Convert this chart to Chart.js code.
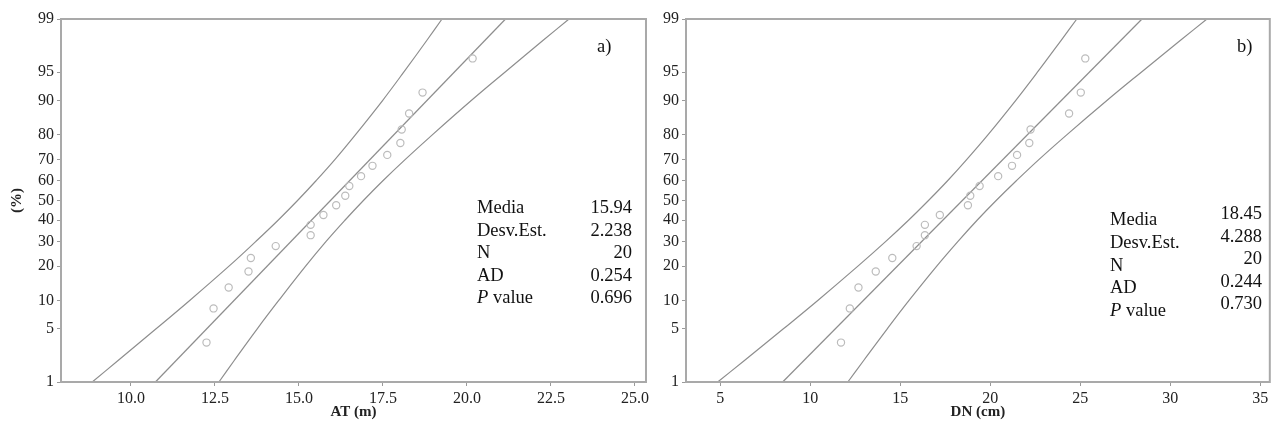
<!DOCTYPE html>
<html>
<head>
<meta charset="utf-8">
<script src="https://cdn.jsdelivr.net/npm/chart.js@4.4.1/dist/chart.umd.min.js"></script>
<style>
  body { margin: 0; background: #fff; }
  #wrap { position: relative; width: 1275px; height: 434px; overflow: hidden; }
  canvas { position: absolute; top: 0; }
  .txt { position: absolute; font-family: 'Liberation Serif', 'Times New Roman', serif; font-size: 18.5px; line-height: 20px; color: #111; white-space: nowrap; }
  .val { text-align: right; }
</style>
</head>
<body>
<div id="wrap">
  <canvas id="at-chart" width="652" height="434" style="left:0px"></canvas>
  <canvas id="dn-chart" width="623" height="434" style="left:652px"></canvas>
</div>
<script>
// probability levels (%) on the y axis
const Y_TICKS = [1, 5, 10, 20, 30, 40, 50, 60, 70, 80, 90, 95, 99];
// plotting positions of the 20 ordered trees (%)
const RANKS = [3.43, 8.33, 13.24, 18.14, 23.04, 27.94, 32.84, 37.75, 42.65, 47.55,
               52.45, 57.35, 62.25, 67.16, 72.06, 76.96, 81.86, 86.76, 91.67, 96.57];

// a) total height AT (m)
const AT_TICKS = [10, 12.5, 15, 17.5, 20, 22.5, 25];
const AT_VALUES = [12.25, 12.46, 12.91, 13.50, 13.57, 14.31, 15.35, 15.35, 15.73, 16.11,
                   16.38, 16.50, 16.85, 17.19, 17.63, 18.02, 18.06, 18.28, 18.68, 20.17];
const AT_FIT = [10.73, 21.15];          // at 1% and 99%
const BAND_LEVELS = [1, 2, 5, 10, 20, 30, 40, 50, 60, 70, 80, 90, 95, 98, 99];
const AT_LOWER = [8.85, 9.61, 10.75, 11.75, 12.92, 13.72, 14.38, 14.96, 15.51, 16.07, 16.68, 17.49, 18.12, 18.81, 19.26];
const AT_UPPER = [12.62, 13.07, 13.76, 14.40, 15.20, 15.81, 16.37, 16.92, 17.50, 18.16, 18.97, 20.13, 21.13, 22.27, 23.04];
const AT_STATS = ['15.94', '2.238', '20', '0.254', '0.696'];

// b) diameter DN (cm)
const DN_TICKS = [5, 10, 15, 20, 25, 30, 35];
const DN_VALUES = [11.71, 12.20, 12.68, 13.64, 14.56, 15.91, 16.37, 16.37, 17.20, 18.76,
                   18.89, 19.41, 20.44, 21.21, 21.49, 22.17, 22.24, 24.38, 25.03, 25.28];
const DN_FIT = [8.47, 28.43];
const DN_LOWER = [4.86, 6.33, 8.51, 10.42, 12.65, 14.20, 15.46, 16.57, 17.63, 18.69, 19.87, 21.41, 22.62, 23.94, 24.81];
const DN_UPPER = [12.09, 12.96, 14.28, 15.49, 17.03, 18.21, 19.27, 20.33, 21.45, 22.70, 24.25, 26.48, 28.39, 30.57, 32.04];
const DN_STATS = ['18.45', '4.288', '20', '0.244', '0.730'];

const STAT_LABELS = ['Media', 'Desv.Est.', 'N', 'AD', 'P value'];

// inverse normal cdf (Acklam)
function qnorm(p) {
  const a = [-3.969683028665376e+01, 2.209460984245205e+02, -2.759285104469687e+02, 1.383577518672690e+02, -3.066479806614716e+01, 2.506628277459239e+00];
  const b = [-5.447609879822406e+01, 1.615858368580409e+02, -1.556989798598866e+02, 6.680131188771972e+01, -1.328068155288572e+01];
  const c = [-7.784894002430293e-03, -3.223964580411365e-01, -2.400758277161838e+00, -2.549732539343734e+00, 4.374664141464968e+00, 2.938163982698783e+00];
  const d = [7.784695709041462e-03, 3.224671290700398e-01, 2.445134137142996e+00, 3.754408661907416e+00];
  const pl = 0.02425;
  let q, r;
  if (p < pl) {
    q = Math.sqrt(-2 * Math.log(p));
    return (((((c[0]*q+c[1])*q+c[2])*q+c[3])*q+c[4])*q+c[5]) / ((((d[0]*q+d[1])*q+d[2])*q+d[3])*q+1);
  }
  if (p > 1 - pl) {
    q = Math.sqrt(-2 * Math.log(1 - p));
    return -(((((c[0]*q+c[1])*q+c[2])*q+c[3])*q+c[4])*q+c[5]) / ((((d[0]*q+d[1])*q+d[2])*q+d[3])*q+1);
  }
  q = p - 0.5; r = q * q;
  return (((((a[0]*r+a[1])*r+a[2])*r+a[3])*r+a[4])*r+a[5])*q / (((((b[0]*r+b[1])*r+b[2])*r+b[3])*r+b[4])*r+1);
}

// normal probability scale
class ProbabilityScale extends Chart.LinearScale {
  determineDataLimits() { this.min = 1; this.max = 99; }
  buildTicks() { return Y_TICKS.map(v => ({ value: v })); }
  getPixelForValue(v) {
    const z0 = qnorm(0.01), z1 = qnorm(0.99);
    return this.getPixelForDecimal((qnorm(v / 100) - z0) / (z1 - z0));
  }
}
ProbabilityScale.id = 'probability';
ProbabilityScale.defaults = Chart.LinearScale.defaults;
Chart.register(ProbabilityScale);

Chart.defaults.font.family = "'Liberation Serif', 'Times New Roman', serif";
Chart.defaults.font.size = 16;
Chart.defaults.color = '#222';

const frame = {
  id: 'frame',
  afterDatasetsDraw(chart) {
    const a = chart.chartArea, ctx = chart.ctx;
    ctx.save();
    ctx.strokeStyle = '#a9a9a9';
    ctx.lineWidth = 2;
    ctx.strokeRect(a.left, a.top, a.right - a.left, a.bottom - a.top);
    ctx.restore();
  }
};

const LINE = '#8e8e8e';

function curve(xs) {
  return {
    type: 'line',
    data: xs.map((x, i) => ({ x: x, y: BAND_LEVELS[i] })),
    borderColor: LINE, borderWidth: 1.2, pointRadius: 0, tension: 0.4, fill: false
  };
}

function probPlot(id, values, fit, lower, upper, xmin, xmax, xticks, fmt, yWidth, padRight, xTitle, yTitle) {
  new Chart(document.getElementById(id), {
    type: 'scatter',
    data: {
      datasets: [
        {
          data: values.map((x, i) => ({ x: x, y: RANKS[i] })),
          pointRadius: 3.6, pointBorderWidth: 1.2,
          borderColor: '#bcbcbc', backgroundColor: 'rgba(0,0,0,0)'
        },
        {
          type: 'line',
          data: [{ x: fit[0], y: 1 }, { x: fit[1], y: 99 }],
          borderColor: LINE, borderWidth: 1.2, pointRadius: 0
        },
        curve(lower),
        curve(upper)
      ]
    },
    options: {
      responsive: false,
      animation: false,
      layout: { padding: { top: 19, right: padRight, left: 0, bottom: 0 } },
      plugins: { legend: { display: false }, tooltip: { enabled: false } },
      scales: {
        x: {
          type: 'linear', min: xmin, max: xmax,
          afterBuildTicks: s => { s.ticks = xticks.map(v => ({ value: v })); },
          afterFit: s => { s.height = 52; },
          grid: { drawOnChartArea: false, tickLength: 4, color: '#9a9a9a' },
          border: { display: false },
          ticks: { padding: 3, callback: fmt, autoSkip: false, maxRotation: 0 },
          title: { display: true, text: xTitle, font: { weight: 'bold', size: 15 }, padding: { top: 0, bottom: 13 } }
        },
        y: {
          type: 'probability',
          afterFit: s => { s.width = yWidth; },
          grid: { drawOnChartArea: false, tickLength: 4, color: '#9a9a9a' },
          border: { display: false },
          ticks: { padding: 3, autoSkip: false },
          title: { display: !!yTitle, text: yTitle, font: { weight: 'bold', size: 15 }, padding: { top: 8, bottom: 0 } }
        }
      }
    },
    plugins: [frame]
  });
}

probPlot('at-chart', AT_VALUES, AT_FIT, AT_LOWER, AT_UPPER, 7.92, 25.33, AT_TICKS,
         v => v.toFixed(1), 61, 5, 'AT (m)', '(%)');
probPlot('dn-chart', DN_VALUES, DN_FIT, DN_LOWER, DN_UPPER, 3.1, 35.53, DN_TICKS,
         v => String(v), 34, 3, 'DN (cm)', '');

// stats boxes and panel labels
const wrap = document.getElementById('wrap');
function addText(text, left, top, cls, right) {
  const d = document.createElement('div');
  d.className = 'txt' + (cls ? ' ' + cls : '');
  if (right !== undefined) { d.style.right = (1275 - right) + 'px'; } else { d.style.left = left + 'px'; }
  d.style.top = top + 'px';
  if (text === 'P value') { d.innerHTML = '<i>P</i> value'; } else { d.textContent = text; }
  wrap.appendChild(d);
}
STAT_LABELS.forEach((lab, i) => {
  addText(lab, 477, 197 + i * 22.5);
  addText(AT_STATS[i], 0, 197 + i * 22.5, 'val', 632);
  addText(lab, 1110, 209 + i * 22.8);
  addText(DN_STATS[i], 0, 203 + i * 22.5, 'val', 1262);
});
addText('a)', 597, 36);
addText('b)', 1237, 36);
</script>
</body>
</html>
